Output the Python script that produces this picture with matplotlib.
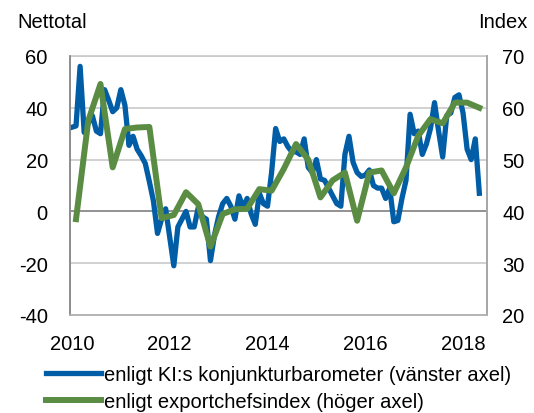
import numpy as np
import matplotlib
matplotlib.use("Agg")
import matplotlib.pyplot as plt
from matplotlib.lines import Line2D

plt.rcParams['font.family'] = ['Liberation Sans', 'DejaVu Sans']
plt.rcParams['axes.unicode_minus'] = False

# Monthly, Jan 2010 - May 2018 (left axis, net balance)
ki_start_year = 2010
ki_values = [32.5, 33, 56, 30.5, 34, 37, 31, 30, 47, 43, 38.5, 40,
             47, 41, 25.5, 29, 24, 21.5, 18.5, 11.5, 4, -8.5, -3, 1,
             -10, -21, -6, -3, 0, -6, -6, 1.5, -2, -3, -19, -9,
             -2, 3, 5, 2, -3, 6, 1.5, 5, -1, -5, 7, 3,
             2, 15, 32, 27, 28, 25, 23, 23, 22, 28, 17, 15,
             20, 12.5, 12, 9, 6, 3, 2, 22, 29, 19, 15, 13.5,
             14, 16, 10, 9, 9, 5, 9, -4, -3.5, 5, 12, 37.5,
             30, 31, 22, 26, 32, 42, 31, 21, 37, 38, 44, 45,
             38, 24, 20, 28, 7]

# Quarterly, 2010Q1 - 2018Q2 (right axis, index)
export_values = [38.5, 57.5, 64.6, 48.5, 55.9, 56.2, 56.3, 38.7, 39.3, 43.7,
                 41.4, 33.2, 39.5, 40.4, 40.5, 44.3, 44, 48.2, 53, 50,
                 42.7, 46, 47.5, 38.2, 47.5, 47.9, 43.5, 48.5, 54.6, 57.8,
                 57, 61, 61, 60]

year_ticks = [2010, 2012, 2014, 2016, 2018]
left_ticks = [-40, -20, 0, 20, 40, 60]
right_ticks = [20, 30, 40, 50, 60, 70]
label_ki = "enligt KI:s konjunkturbarometer (vänster axel)"
label_exp = "enligt exportchefsindex (höger axel)"
left_title = "Nettotal"
right_title = "Index"

blue = '#005DA6'
green = '#5A8D43'

x_ki = ki_start_year + np.arange(len(ki_values)) / 12.0
x_exp = ki_start_year + (3 * np.arange(len(export_values)) + 1) / 12.0

fig = plt.figure(figsize=(5.34, 4.14), dpi=100)
ax = fig.add_axes([70/534, 1 - 316/414, (487-70)/534, (316-57)/414])
ax2 = ax.twinx()

fs = 14.5

ax.set_ylim(-40, 60)
ax2.set_ylim(20, 70)
ax.set_xlim(2009.96, 2018.49)

for v in left_ticks:
    if v == 0:
        ax.axhline(v, color='#7f7f7f', lw=1.2, zorder=1)
    elif v != -40:
        ax.axhline(v, color='#c9c9c9', lw=1.2, zorder=1)

ax.plot(x_ki, ki_values, color=blue, lw=3.8, solid_joinstyle='round', zorder=3)
ax2.plot(x_exp, export_values, color=green, lw=4.3, solid_joinstyle='round', zorder=3)

ax.set_yticks(left_ticks)
ax2.set_yticks(right_ticks)
ax.set_xticks(year_ticks)
ax.set_xticklabels([str(y) for y in year_ticks])

ax.tick_params(axis='y', length=0, labelsize=fs, pad=16)
ax2.tick_params(axis='y', length=0, labelsize=fs, pad=11)
ax.tick_params(axis='x', length=0, labelsize=fs, pad=14)

for a in (ax, ax2):
    a.spines['top'].set_visible(False)
    a.spines['left'].set_color('#8c8c8c')
    a.spines['right'].set_color('#a6a6a6')
    a.spines['bottom'].set_color('#b3b3b3')
    for s in a.spines.values():
        s.set_linewidth(1.2)
ax.spines['top'].set_visible(True)
ax.spines['top'].set_color('#c9c9c9')

fig.text(17/534, 1 - 22/414, left_title, fontsize=fs, ha='left', va='center')
fig.text(527/534, 1 - 22/414, right_title, fontsize=fs, ha='right', va='center')

handles = [Line2D([], [], color=blue, lw=3.8), Line2D([], [], color=green, lw=4.3)]
fig.legend(handles, [label_ki, label_exp], loc='upper left',
           bbox_to_anchor=(46/534, 1 - 366/414), frameon=False, fontsize=fs,
           handlelength=2.75, handletextpad=0.15, labelspacing=0.4,
           borderpad=0, borderaxespad=0)

fig.savefig('out.png', dpi=100)
